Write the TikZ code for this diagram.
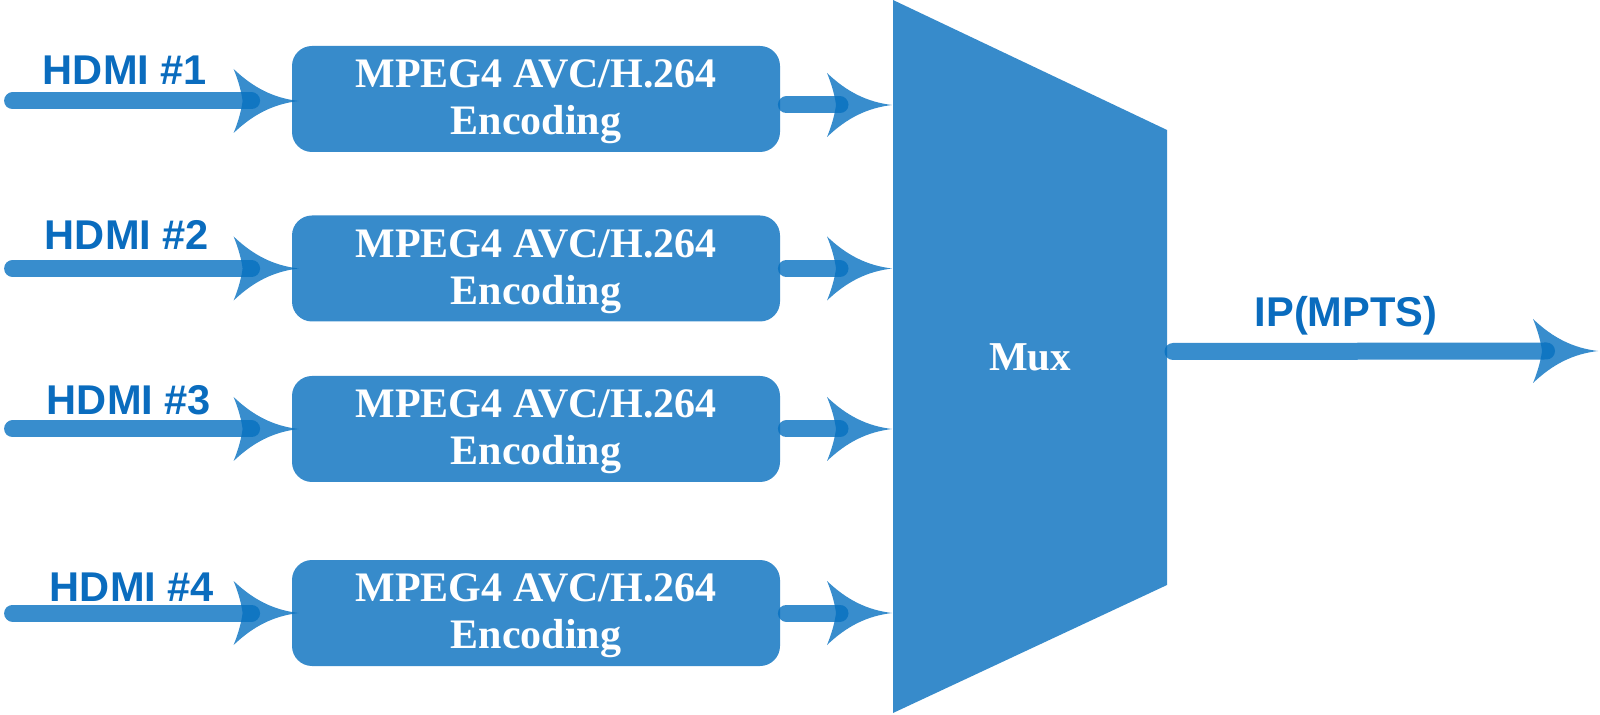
\documentclass[tikz,border=0pt]{standalone}
\usepackage{fontspec}
\setmainfont{Liberation Serif}
\newfontfamily\labelfont{Liberation Sans}
\usetikzlibrary{calc}
\definecolor{boxblue}{HTML}{378BCB}
\definecolor{arrblue}{HTML}{0670C0}
\definecolor{lblblue}{HTML}{0A6CBE}
\newcommand\enctext{\raisebox{-1.5pt}[\height][\depth]{\begin{tabular}{@{}c@{}}MPEG4 AVC/H.264\\Encoding\end{tabular}}}
\tikzset{
  encbox/.style={fill=boxblue, rounded corners=10pt, minimum width=244pt, minimum height=53pt,
    inner sep=0pt, text=white, font=\bfseries\fontsize{21}{23.5}\selectfont},
  muxtext/.style={text=white, font=\bfseries\fontsize{20.5}{24}\selectfont, inner sep=0pt},
  shaft/.style={draw=arrblue, draw opacity=0.8, line width=8.5pt, line cap=round},
  headfill/.style={fill=arrblue, fill opacity=0.8},
  lbl/.style={text=lblblue, font=\labelfont\bfseries\fontsize{20.8}{24}\selectfont, anchor=base, inner sep=0pt},
  ahead/.pic={\fill[headfill] (0,0) .. controls (-25,-3) and (-45,-13) .. (-65,-32)
     .. controls (-60,-20) and (-57,-8) .. (-56,0)
     .. controls (-57,8) and (-60,20) .. (-65,32)
     .. controls (-45,13) and (-25,3) .. (0,0) -- cycle;}
}
\begin{document}
\begin{tikzpicture}[x=0.5pt,y=-0.5pt]
\useasboundingbox (0,0) rectangle (1600,715);
% multiplexer
\coordinate (mTL) at (893,0);
\coordinate (mTR) at (1167,130);
\coordinate (mBR) at (1167,585);
\coordinate (mBL) at (893,713);
\fill[boxblue] (mTL) -- (mTR) -- (mBR) -- (mBL) -- cycle;
\node[muxtext] (mux) at (1030,357) {Mux};
% encoders and arrows
\foreach \i/\y/\din/\dout in {1/99/2/6, 2/268.5/0/0, 3/429/0/0, 4/613/0/0}{
  \node[encbox] (e\i) at (536,\y) {\enctext};
  \coordinate (in\i) at ($(e\i.west)+(-279,\din)$);
  \coordinate (t\i) at ($(e\i.west)+(7,\din)$);
  \draw[shaft] (in\i) -- ($(t\i)+(-47,0)$);
  \pic at (t\i) {ahead};
  \coordinate (o\i) at ($(e\i.east)+(6,\dout)$);
  \coordinate (m\i) at ($(mTL |- e\i.east)+(-1,\dout)$);
  \draw[shaft] (o\i) -- ($(m\i)+(-52,0)$);
  \pic at (m\i) {ahead};
}
% output
\coordinate (mo) at ($(mTR)!0.5!(mBR)+(0,-6)$);
\coordinate (out) at (1598,351);
\draw[shaft] ($(mo)+(6,0)$) -- ($(out)+(-51.5,0)$);
\pic at (out) {ahead};
% labels
\node[lbl] (h1) at (125,85) {HDMI \#1};
\node[lbl] (h2) at (127,250) {HDMI \#2};
\node[lbl] (h3) at (129,415) {HDMI \#3};
\node[lbl] (h4) at (132,601) {HDMI \#4};
\node[lbl] (ip) at (1346,327) {IP(MPTS)};
\end{tikzpicture}
\end{document}
